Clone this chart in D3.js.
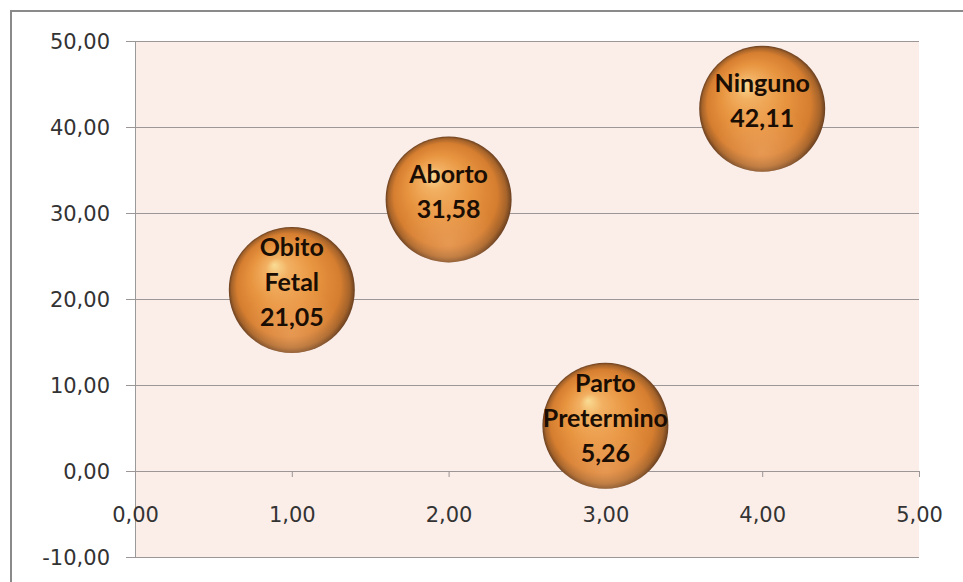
<!DOCTYPE html>
<html>
<head>
<meta charset="utf-8">
<script src="https://cdn.jsdelivr.net/npm/d3@7"></script>
<style>
  html, body { margin: 0; padding: 0; background: #fff; }
  svg { display: block; }
</style>
</head>
<body>
<svg id="chart" width="963" height="582"></svg>
<script>
// Complicaciones: x position, y value, bubble size, label
const labels = [["Obito", "Fetal"], ["Aborto"], ["Parto", "Pretermino"], ["Ninguno"]];
const xValues = [1, 2, 3, 4];
const yValues = [21.05, 31.58, 5.26, 42.11];
const sizes = [1, 1, 1, 1];
const xTicks = [0, 1, 2, 3, 4, 5];
const yTicks = [-10, 0, 10, 20, 30, 40, 50];

const fmt = v => v.toFixed(2).replace(".", ",");

const svg = d3.select("#chart");
const plot = { left: 135, top: 41, right: 919, bottom: 557 };

const x = d3.scaleLinear().domain([0, 5]).range([plot.left, plot.right]);
const y = d3.scaleLinear().domain([-10, 50]).range([plot.bottom, plot.top]);
const r = d3.scaleSqrt().domain([0, 1]).range([0, 63]);

// Outer chart frame
svg.append("rect")
  .attr("x", 11).attr("y", 11).attr("width", 980).attr("height", 600)
  .attr("fill", "#fff").attr("stroke", "#8a8a8a").attr("stroke-width", 2);

// Plot area
svg.append("rect")
  .attr("x", plot.left).attr("y", plot.top)
  .attr("width", plot.right - plot.left).attr("height", plot.bottom - plot.top)
  .attr("fill", "#fbede8");

// Horizontal gridlines + y axis
const yAxis = d3.axisLeft(y).tickValues(yTicks).tickFormat(fmt)
  .tickSizeInner(-(plot.right - plot.left)).tickSizeOuter(0).tickPadding(0);
const gy = svg.append("g").attr("transform", `translate(${plot.left},0)`).call(yAxis);
gy.select(".domain").attr("stroke", "#9a9a9a");
gy.selectAll(".tick line").attr("stroke", "#9c9696").attr("stroke-width", 1.2)
  .attr("x1", -9);
gy.selectAll(".tick text")
  .attr("x", -25).attr("dy", "0.35em")
  .attr("font-family", "'DejaVu Sans', Verdana, sans-serif")
  .attr("font-size", 21).attr("fill", "#333");

// X axis crossing at y = 0
const xAxis = d3.axisBottom(x).tickValues(xTicks).tickFormat(fmt)
  .tickSizeInner(6).tickSizeOuter(0).tickPadding(0);
const gx = svg.append("g").attr("transform", `translate(0,${y(0)})`).call(xAxis);
gx.select(".domain").attr("stroke", "#9c9696").attr("stroke-width", 1.2);
gx.selectAll(".tick line").attr("stroke", "#9c9696");
gx.selectAll(".tick text")
  .attr("y", 51).attr("dy", 0)
  .attr("font-family", "'DejaVu Sans', Verdana, sans-serif")
  .attr("font-size", 21).attr("fill", "#333");

// Sphere shading
const defs = svg.append("defs");
const grad = defs.append("radialGradient").attr("id", "sphere")
  .attr("cx", "50%").attr("cy", "50%").attr("r", "50%")
  .attr("fx", "36%").attr("fy", "30%");
[[0, "#f9dc94"], [0.18, "#f2b062"], [0.5, "#e89540"], [0.82, "#d67e30"], [0.94, "#a5632a"], [1, "#6a4020"]]
  .forEach(([o, c]) => grad.append("stop").attr("offset", o).attr("stop-color", c));
const refl = defs.append("radialGradient").attr("id", "reflect")
  .attr("cx", "50%").attr("cy", "85%").attr("r", "40%");
refl.append("stop").attr("offset", 0).attr("stop-color", "#f5b072").attr("stop-opacity", 0.5);
refl.append("stop").attr("offset", 1).attr("stop-color", "#f5b072").attr("stop-opacity", 0);

const data = xValues.map((xv, i) => ({ x: xv, y: yValues[i], s: sizes[i], lines: [...labels[i], fmt(yValues[i])] }));

const bubbles = svg.append("g").selectAll("g").data(data).join("g")
  .attr("transform", d => `translate(${x(d.x)},${y(d.y)})`);
bubbles.append("circle").attr("r", d => r(d.s)).attr("fill", "url(#sphere)");
bubbles.append("circle").attr("r", d => r(d.s)).attr("fill", "url(#reflect)");

const lineH = 35;
bubbles.append("text")
  .attr("text-anchor", "middle")
  .attr("font-family", "Lato, 'Open Sans', sans-serif")
  .attr("font-weight", 700).attr("font-size", 25).attr("fill", "#1a0d04")
  .selectAll("tspan").data(d => d.lines.map((t, i) => ({ t, i, n: d.lines.length })))
  .join("tspan")
  .attr("x", 0)
  .attr("y", d => (d.i - (d.n - 1) / 2) * lineH + 1)
  .text(d => d.t);
</script>
</body>
</html>
